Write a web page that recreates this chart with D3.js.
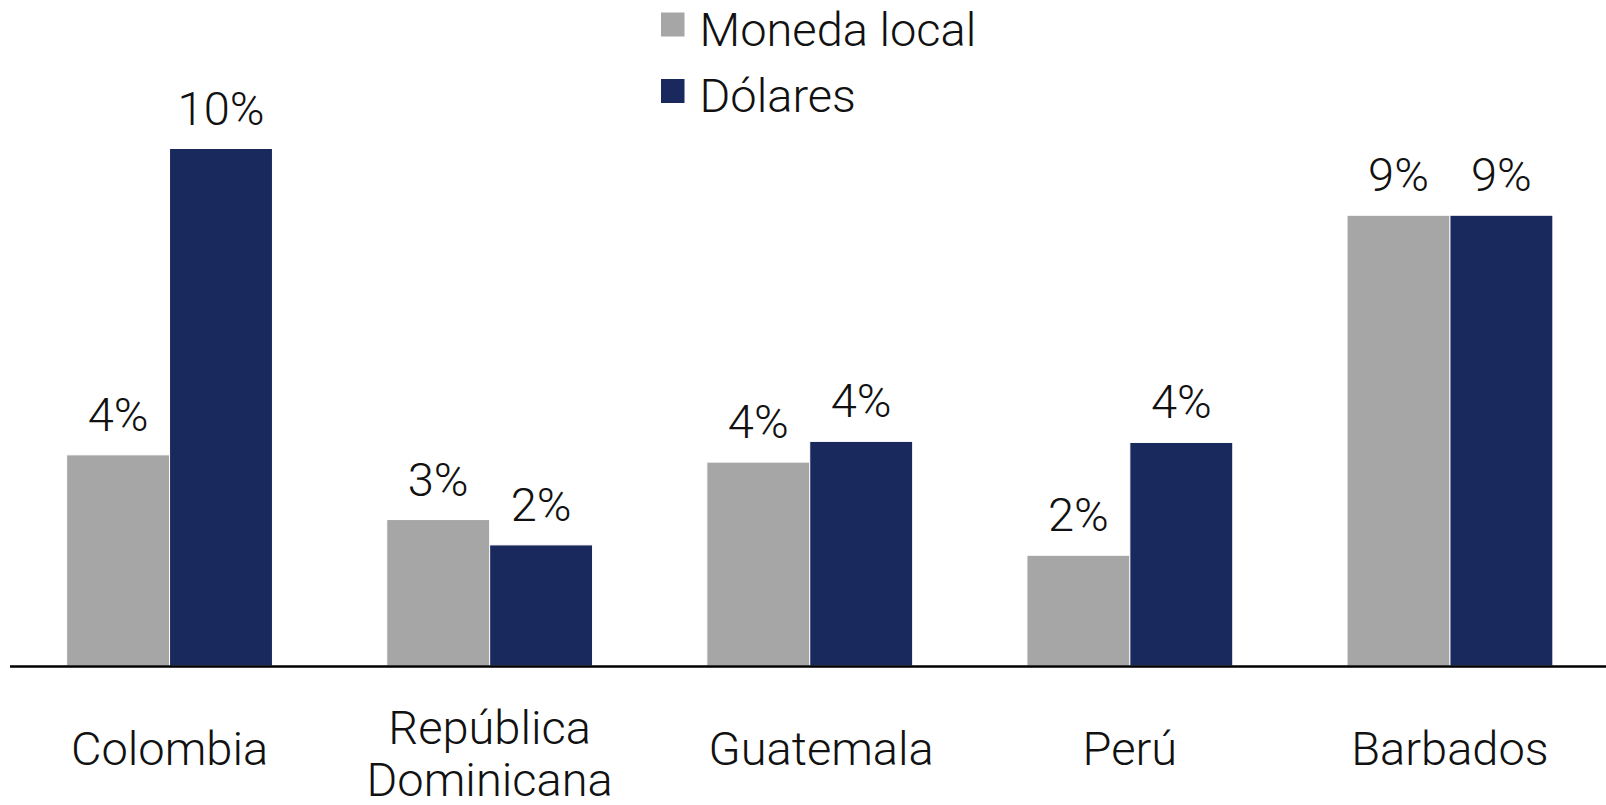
<!DOCTYPE html>
<html>
<head>
<meta charset="utf-8">
<script src="https://cdn.jsdelivr.net/npm/d3@7"></script>
<style>
  body { margin: 0; background: #fff; }
  svg { display: block; }
</style>
</head>
<body>
<script>
// the source label for Guatemala carries two leading spaces
const countries = ["Colombia", "República\nDominicana", "\u00a0\u00a0Guatemala", "Perú", "Barbados"];
const series = ["Moneda local", "Dólares"];
const monedaLocal = [4.08, 2.83, 3.94, 2.14, 8.71];
const dolares = [10.0, 2.34, 4.34, 4.32, 8.71];
const colors = ["#a6a6a6", "#1a295d"];

const width = 1606, height = 805;
const baseline = 666;

const data = countries.map((c, i) => ({
  name: c,
  values: [
    {key: series[0], value: monedaLocal[i]},
    {key: series[1], value: dolares[i]}
  ]
}));

const x0 = d3.scaleBand()
    .domain(countries)
    .range([9.5, 1610])
    .paddingInner(0.357)
    .paddingOuter(0.357 / 2);

const x1 = d3.scaleBand()
    .domain(series)
    .range([0, x0.bandwidth()]);

const y = d3.scaleLinear()
    .domain([0, 10])
    .range([baseline, 148.5]);

const color = d3.scaleOrdinal().domain(series).range(colors);

const svg = d3.select("body").append("svg")
    .attr("width", width)
    .attr("height", height)
    .style("font-family", "Roboto, sans-serif")
    .style("font-weight", 300)
    .style("font-size", "47px");

const groups = svg.append("g")
  .selectAll("g")
  .data(data)
  .join("g")
    .attr("transform", d => `translate(${x0(d.name)},0)`);

groups.selectAll("rect")
  .data(d => d.values)
  .join("rect")
    .attr("x", d => x1(d.key))
    .attr("y", d => y(d.value))
    .attr("width", x1.bandwidth())
    .attr("height", d => baseline - y(d.value))
    .attr("fill", d => color(d.key))
    .attr("stroke", "#fff")
    .attr("stroke-width", 1);

groups.selectAll("text.val")
  .data(d => d.values)
  .join("text")
    .attr("class", "val")
    .attr("x", d => x1(d.key) + x1.bandwidth() / 2)
    .attr("y", d => y(d.value) - 24)
    .attr("text-anchor", "middle")
    .attr("fill", "#111")
    .text(d => d3.format(".0f")(d.value) + "%");

// axis line
svg.append("line")
    .attr("x1", 10)
    .attr("x2", width)
    .attr("y1", baseline + 0.5)
    .attr("y2", baseline + 0.5)
    .attr("stroke", "#000")
    .attr("stroke-width", 2.5);

// category labels
const cat = svg.append("g")
  .selectAll("text")
  .data(countries)
  .join("text")
    .attr("text-anchor", "middle")
    .attr("fill", "#111")
    .attr("transform", d => `translate(${x0(d) + x0.bandwidth() / 2},0)`);

cat.each(function(d) {
  const lines = d.split("\n");
  const top = lines.length > 1 ? 744 : 765;
  d3.select(this).selectAll("tspan")
    .data(lines)
    .join("tspan")
      .attr("x", 0)
      .attr("y", (l, i) => top + i * 52)
      .text(l => l);
});

// legend
const legend = svg.append("g")
  .selectAll("g")
  .data(series)
  .join("g")
    .attr("transform", (d, i) => `translate(661,${12.5 + i * 66.5})`);

legend.append("rect")
    .attr("width", 23.5)
    .attr("height", 24)
    .attr("fill", d => color(d));

legend.append("text")
    .attr("x", 38.5)
    .attr("y", 33)
    .attr("fill", "#111")
    .text(d => d);
</script>
</body>
</html>
